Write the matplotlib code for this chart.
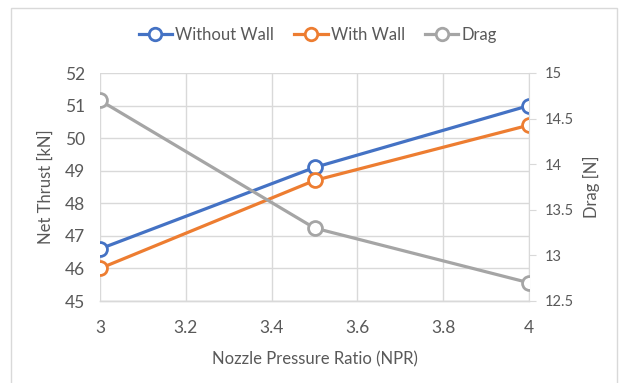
import matplotlib
import matplotlib.pyplot as plt
from matplotlib.patches import Rectangle

matplotlib.use("Agg")

# Net thrust [kN] and drag [N] against nozzle pressure ratio
npr = [3, 3.5, 4]
thrust_without_wall = [46.6, 49.1, 51.0]
thrust_with_wall = [46.0, 48.7, 50.4]
drag = [14.7, 13.3, 12.7]

BLUE = "#4472c4"
ORANGE = "#ed7d31"
GRAY = "#a5a5a5"
TEXT = "#595959"
GRID = "#d9d9d9"

plt.rcParams["font.family"] = ["Lato", "DejaVu Sans"]

fig = plt.figure(figsize=(6.2, 3.83), dpi=100)
# chart area frame
fig.patches.append(Rectangle((11 / 620, -0.01), 606 / 620, 1 - 8 / 383 + 0.01,
                             transform=fig.transFigure, fill=False,
                             edgecolor="#d9d9d9", linewidth=1.0))

ax = fig.add_axes([100 / 620, 1 - 301 / 383, 429 / 620, 228 / 383])
ax2 = ax.twinx()

marker_kw = dict(marker="o", markersize=10, markerfacecolor="white",
                 markeredgewidth=2.0, linewidth=2.3)
l1, = ax.plot(npr, thrust_without_wall, color=BLUE, label="Without Wall", zorder=4, **marker_kw)
l2, = ax.plot(npr, thrust_with_wall, color=ORANGE, label="With Wall", zorder=4, **marker_kw)
l3, = ax2.plot(npr, drag, color=GRAY, label="Drag", zorder=4, **marker_kw)

ax.set_xlim(3, 4)
ax.set_ylim(45, 52)
ax.set_xticks([3, 3.2, 3.4, 3.6, 3.8, 4])
ax.set_xticklabels(["3", "3.2", "3.4", "3.6", "3.8", "4"])
ax.set_yticks(range(45, 53))
ax2.set_ylim(12.5, 15)
ax2.set_yticks([12.5, 13, 13.5, 14, 14.5, 15])
ax2.set_yticklabels(["12.5", "13", "13.5", "14", "14.5", "15"])

ax.grid(True, color=GRID, linewidth=1.0)
ax.set_axisbelow(True)
for a in (ax, ax2):
    for side in ("top", "left", "right"):
        a.spines[side].set_visible(False)
    a.spines["bottom"].set_color(GRID)
    a.spines["bottom"].set_linewidth(1.0)
    a.patch.set_visible(False)
ax2.spines["right"].set_visible(True)
ax2.spines["right"].set_color(GRID)

ax.tick_params(axis="y", length=0, labelcolor=TEXT, labelsize=12.5, pad=11)
ax.tick_params(axis="x", length=0, labelcolor=TEXT, labelsize=12.5, pad=14)
ax2.tick_params(axis="y", length=5, color=GRID, labelcolor=TEXT, labelsize=10.5, pad=6)

ax.set_xlabel("Nozzle Pressure Ratio (NPR)", color=TEXT, fontsize=12, labelpad=11)
ax.set_ylabel("Net Thrust [kN]", color=TEXT, fontsize=12, labelpad=8)
ax2.set_ylabel("Drag [N]", color=TEXT, fontsize=12, labelpad=7)

fig.legend(handles=[l1, l2, l3], loc="center", bbox_to_anchor=(318 / 620, 1 - 35 / 383),
           ncol=3, frameon=False, fontsize=12, labelcolor=TEXT,
           handlelength=2.0, handletextpad=0.2, columnspacing=1.2, markerscale=0.9)

fig.savefig("out.png", dpi=100, facecolor="white")
